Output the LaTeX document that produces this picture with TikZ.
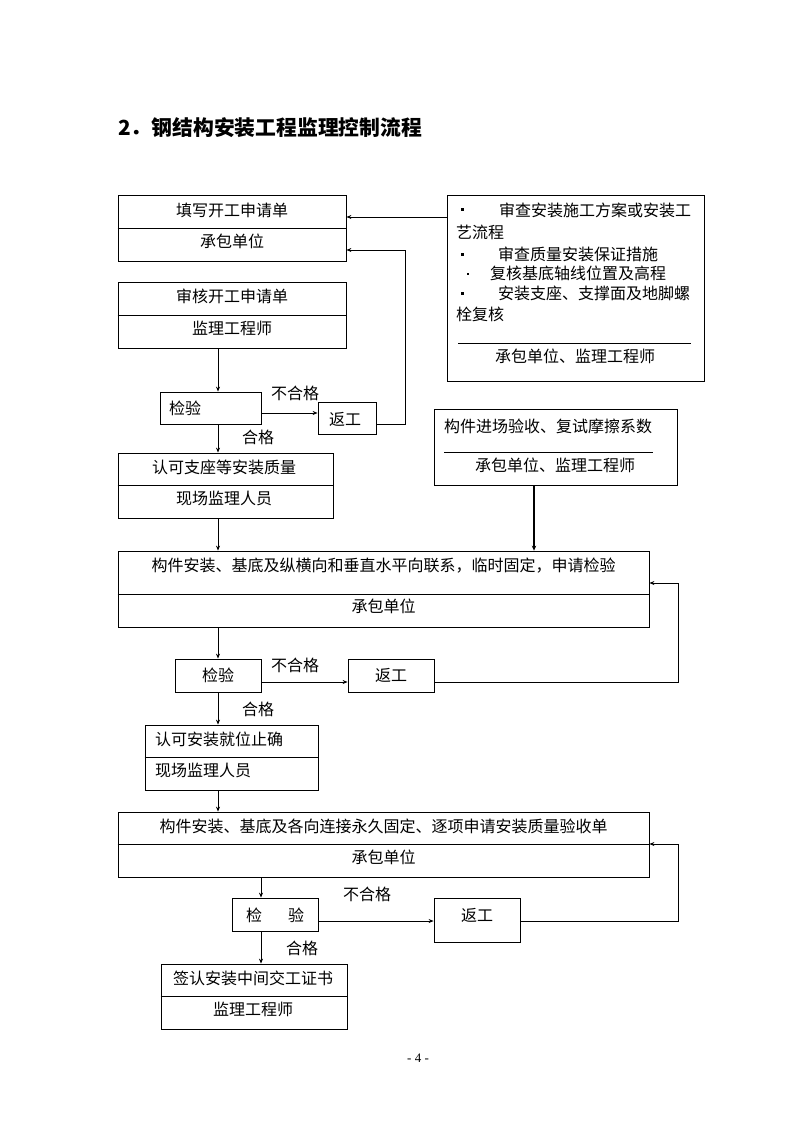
\documentclass[tikz,border=0pt]{standalone}
\usepackage{fontspec}
\setmainfont{Noto Sans CJK SC}
\newfontfamily\latfont{Liberation Serif}
\usetikzlibrary{arrows.meta}
\begin{document}
\begin{tikzpicture}[x=1pt,y=-1pt,
  box/.style={draw,line width=0.8pt,inner sep=0pt},
  txt/.style={font=\fontsize{16}{18}\selectfont,inner sep=0pt},
  bul/.style={fill,inner sep=0pt,minimum size=3pt},
  arr/.style={line width=0.8pt,-{Stealth[length=5pt,width=4pt]}},
  ln/.style={line width=0.8pt}]
\useasboundingbox[fill=white] (0,0) rectangle (794,1123);

% title
\node[font=\fontsize{20.8}{22}\selectfont\bfseries,inner sep=0pt,anchor=west] (title) at (118,128) {2．钢结构安装工程监理控制流程};

% column coordinates
\coordinate (col1) at (218,0);
\coordinate (col2) at (261,0);
\coordinate (col3) at (534,0);

% Box A
\node[box,minimum width=228pt,minimum height=66pt] (A) at (232,228) {};
\draw[ln] (A.west) -- (A.east);
\node[txt] (A1) at (232,210) {填写开工申请单};
\node[txt] (A2) at (232,241) {承包单位};

% Box B
\node[box,minimum width=228pt,minimum height=66pt] (B) at (232,315) {};
\draw[ln] (B.west) -- (B.east);
\node[txt] (B1) at (232,296) {审核开工申请单};
\node[txt] (B2) at (232,328) {监理工程师};

% Right box R
\node[box,minimum width=257pt,minimum height=186pt] (R) at (575.5,288) {};
\node[bul] (Rb1) at (462,210) {};
\node[txt,anchor=west] (R1) at (499,210) {审查安装施工方案或安装工};
\node[txt,anchor=west] (R2) at (456,232) {艺流程};
\node[bul] (Rb2) at (462,254) {};
\node[txt,anchor=west] (R3) at (498,254) {审查质量安装保证措施};
\node[bul,minimum size=2pt] (Rb3) at (468,274) {};
\node[txt,anchor=west] (R4) at (490,273) {复核基底轴线位置及高程};
\node[bul] (Rb4) at (462,293) {};
\node[txt,anchor=west] (R5) at (498,293) {安装支座、支撑面及地脚螺};
\node[txt,anchor=west] (R6) at (456,314) {栓复核};
\draw[ln] (458,343) -- (691,343);
\node[txt] (R7) at (575,356) {承包单位、监理工程师};

% 检验1, 返工1
\node[box,minimum width=101pt,minimum height=32pt] (K1) at (210.5,408) {};
\node[txt,anchor=west] (K1t) at (169,408) {检验};
\node[box,minimum width=58pt,minimum height=32pt] (F1) at (347,418) {};
\node[txt] (F1t) at (345,419) {返工};
\node[txt] (L1) at (295,393) {不合格};
\node[txt] (L2) at (258,437) {合格};

% Box C
\node[box,minimum width=215pt,minimum height=65pt] (C) at (225.5,485.5) {};
\draw[ln] (C.west) -- (C.east);
\node[txt] (C1) at (224,467) {认可支座等安装质量};
\node[txt] (C2) at (224,498) {现场监理人员};

% Box D
\node[box,minimum width=243pt,minimum height=76pt] (D) at (555.5,447) {};
\node[txt,anchor=west] (D1) at (444,426) {构件进场验收、复试摩擦系数};
\draw[ln] (444,452) -- (653,452);
\node[txt] (D2) at (555,465) {承包单位、监理工程师};

% Box E
\node[box,minimum width=531pt,minimum height=76pt] (E) at (383.5,589) {};
\coordinate (e594) at (0,594);
\draw[ln] (E.west |- e594) -- (E.east |- e594);
\node[txt] (E1) at (383.5,566) {构件安装、基底及纵横向和垂直水平向联系，临时固定，申请检验};
\node[txt] (E2) at (383.5,606) {承包单位};

% 检验2, 返工2
\node[box,minimum width=86pt,minimum height=33pt] (K2) at (218,675.5) {};
\node[txt] (K2t) at (218,675) {检验};
\node[box,minimum width=86pt,minimum height=33pt] (F2) at (391,675.5) {};
\node[txt] (F2t) at (391,675) {返工};
\node[txt] (L3) at (295,665) {不合格};
\node[txt] (L4) at (258,709) {合格};

% Box F
\node[box,minimum width=173pt,minimum height=65pt] (BF) at (231.5,757.5) {};
\draw[ln] (BF.west) -- (BF.east);
\node[txt,anchor=west] (BF1) at (155,739) {认可安装就位止确};
\node[txt,anchor=west] (BF2) at (155,770) {现场监理人员};

% Box G
\node[box,minimum width=531pt,minimum height=65pt] (G) at (383.5,844.5) {};
\draw[ln] (G.west) -- (G.east);
\node[txt] (G1) at (383.5,826) {构件安装、基底及各向连接永久固定、逐项申请安装质量验收单};
\node[txt] (G2) at (383.5,857) {承包单位};

% 检验3, 返工3
\node[box,minimum width=86pt,minimum height=33pt] (K3) at (275,914.5) {};
\node[txt] (K3t) at (275,915) {检\hspace{26pt}验};
\node[box,minimum width=86pt,minimum height=44pt] (F3) at (477,920) {};
\node[txt] (F3t) at (477,915) {返工};
\node[txt] (L5) at (367,894) {不合格};
\node[txt] (L6) at (302,948) {合格};

% Box H
\node[box,minimum width=186pt,minimum height=65pt] (H) at (254,996.5) {};
\draw[ln] (H.west) -- (H.east);
\node[txt] (H1) at (253,978) {签认安装中间交工证书};
\node[txt] (H2) at (253,1009) {监理工程师};

% page number
\node[font=\latfont\fontsize{13}{15}\selectfont,inner sep=0pt] (pg) at (418,1058) {- 4 -};

% connectors
\coordinate (r217) at (0,217);
\draw[arr] (R.west |- r217) -- (A.east |- r217);

\draw[arr] (B.south -| col1) -- (K1.north -| col1);
\coordinate (r413) at (0,413);
\draw[arr] (K1.east |- r413) -- (F1.west |- r413);
\coordinate (t1) at (405,424);
\coordinate (t2) at (405,250);
\draw[arr] (F1.east |- t1) -- (t1) -- (t2) -- (A.east |- t2);
\draw[arr] (K1.south -| col1) -- (C.north -| col1);

\draw[arr] (C.south -| col1) -- (E.north -| col1);
\draw[line width=1.6pt,-{Stealth[length=5pt,width=4.5pt]}] (D.south -| col3) -- (E.north -| col3);

\draw[arr] (E.south -| col1) -- (K2.north);
\coordinate (r682) at (0,682);
\draw[arr] (K2.east |- r682) -- (F2.west |- r682);
\coordinate (t3) at (678,682);
\coordinate (t4) at (678,583);
\draw[arr] (F2.east |- t3) -- (t3) -- (t4) -- (E.east |- t4);
\draw[arr] (K2.south) -- (BF.north -| col1);

\draw[arr] (BF.south -| col1) -- (G.north -| col1);
\draw[arr] (G.south -| col2) -- (K3.north -| col2);
\coordinate (r921) at (0,921);
\draw[arr] (K3.east |- r921) -- (F3.west |- r921);
\coordinate (t5) at (678,921);
\coordinate (t6) at (678,844);
\draw[arr] (F3.east |- t5) -- (t5) -- (t6) -- (G.east |- t6);
\draw[arr] (K3.south -| col2) -- (H.north -| col2);
\end{tikzpicture}
\end{document}
